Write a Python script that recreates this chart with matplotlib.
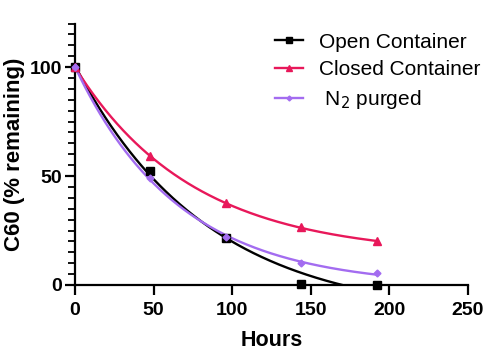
import numpy as np
import matplotlib.pyplot as plt

plt.rcParams['font.family'] = ['Liberation Sans', 'DejaVu Sans']

hours = [0, 48, 96, 144, 192]
open_container = [100, 52.5, 21.5, 0.5, 0]
closed_container = [100, 59, 37.5, 26.5, 20]
n2_purged = [100, 49, 22, 10, 5.5]

x_ticks = [0, 50, 100, 150, 200, 250]
y_ticks = [0, 50, 100]


# one-phase decay fit y = A*exp(-k t) + C, grid search on k, least squares for A, C
def fit_decay(t, y):
    t = np.asarray(t, float)
    y = np.asarray(y, float)
    best = None
    for k in np.linspace(0.001, 0.08, 2000):
        M = np.column_stack([np.exp(-k * t), np.ones_like(t)])
        coef, res, _, _ = np.linalg.lstsq(M, y, rcond=None)
        err = np.sum((M @ coef - y) ** 2)
        if best is None or err < best[0]:
            best = (err, k, coef)
    _, k, (A, C) = best
    return lambda tt: A * np.exp(-k * tt) + C


fig = plt.figure(figsize=(4.9, 3.63), dpi=100)
ax = fig.add_axes([0.153, 0.215, 0.802, 0.72])

tt = np.linspace(0, 192, 300)
series = [
    (open_container, 'black', 's', 5.5, 'Open Container'),
    (closed_container, '#e8185a', '^', 5.5, 'Closed Container'),
    (n2_purged, '#a36cf0', 'D', 3.5, ' N$_2$ purged'),
]
for vals, color, marker, ms, label in series:
    f = fit_decay(hours, vals)
    ax.plot(tt, f(tt), color=color, lw=1.7, zorder=2, clip_on=True)
    ax.plot(hours, vals, linestyle='none', marker=marker, color=color,
            markersize=ms, zorder=3, clip_on=False)
    ax.plot([], [], color=color, lw=1.7, marker=marker, markersize=ms - 1, label=label)

ax.set_xlim(0, 250)
ax.set_ylim(0, 120)
ax.set_xticks(x_ticks)
ax.set_yticks(y_ticks)
ax.set_yticks(np.arange(0, 121, 5), minor=True)
ax.spines['top'].set_visible(False)
ax.spines['right'].set_visible(False)
for s in ['left', 'bottom']:
    ax.spines[s].set_linewidth(1.6)
ax.tick_params(which='major', length=7, width=1.6, labelsize=14, direction='out', pad=2)
ax.tick_params(axis='x', which='major', pad=5)
ax.tick_params(which='minor', length=5, width=1.3, direction='out')
ax.tick_params(axis='x', which='minor', bottom=False)
for lab in ax.get_xticklabels() + ax.get_yticklabels():
    lab.set_fontweight('bold')

ax.set_xlabel('Hours', fontsize=15.5, fontweight='bold', labelpad=8)
ax.set_ylabel('C60 (% remaining)', fontsize=16, fontweight='bold', labelpad=4)

fig.legend(loc='upper left', bbox_to_anchor=(0.561, 0.91), frameon=False,
           fontsize=15, handlelength=1.35, handletextpad=0.75, labelspacing=0.42,
           borderpad=0, borderaxespad=0)

fig.savefig('out.png', dpi=100)
